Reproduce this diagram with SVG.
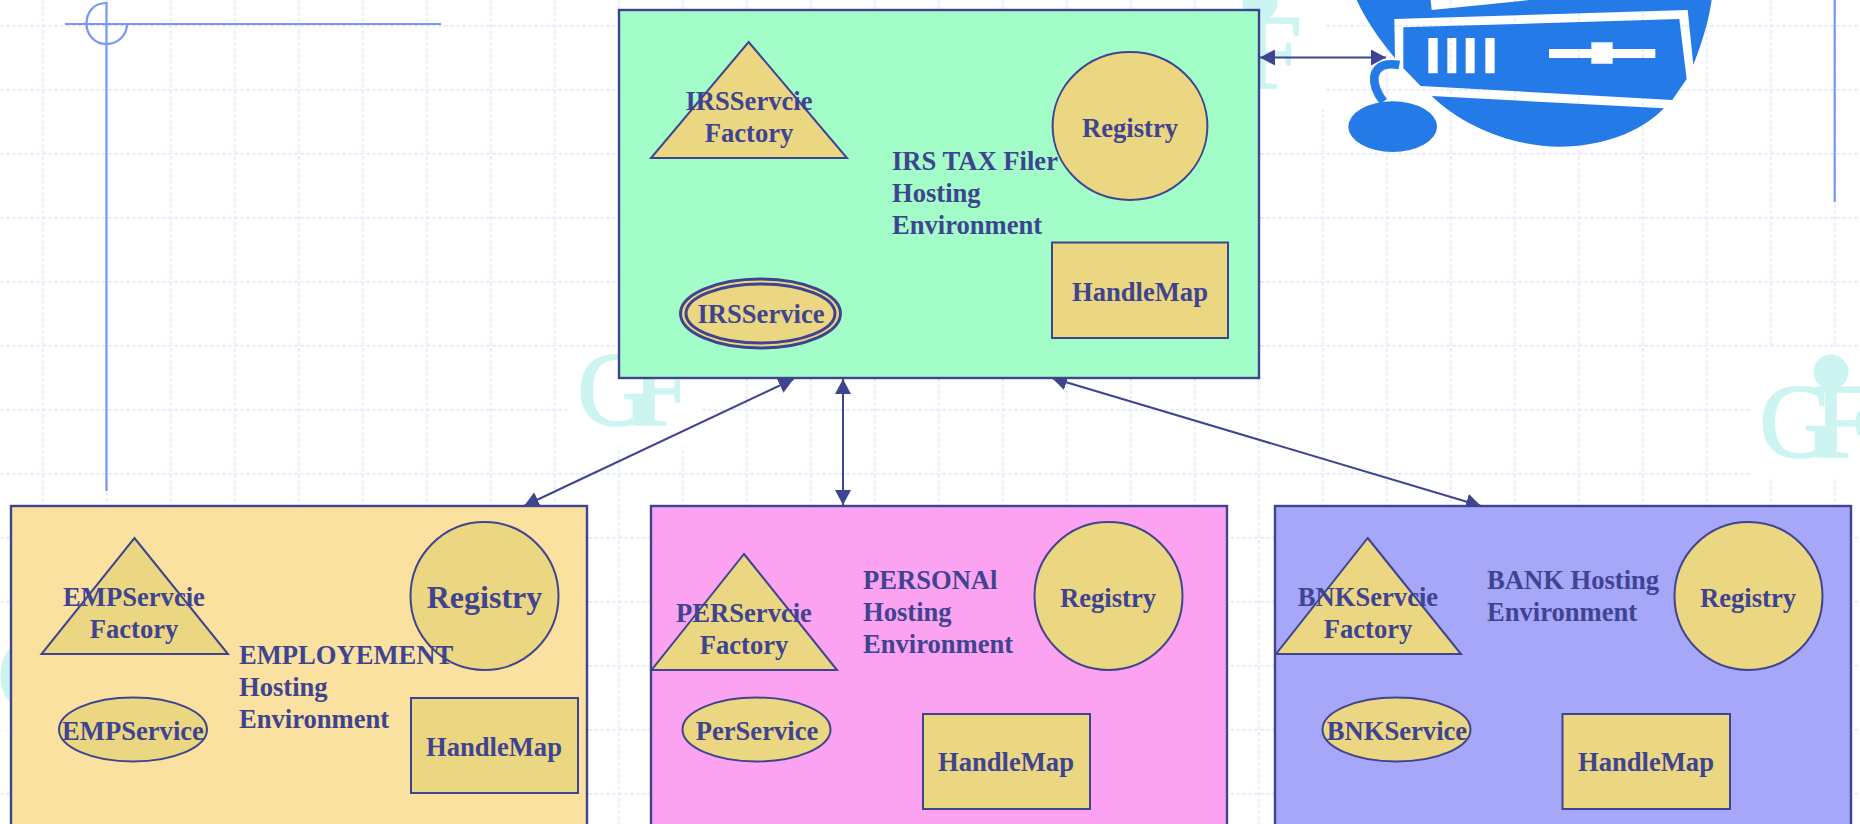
<svg xmlns="http://www.w3.org/2000/svg" xmlns:xlink="http://www.w3.org/1999/xlink" width="1860" height="824" viewBox="0 0 1860 824">
<style>
.grid line{stroke:#e3e9fc;stroke-width:1.6;stroke-dasharray:4 2;fill:none}
.wm{fill:#ccf5f2;stroke:#ccf5f2;stroke-width:1.6;font-family:"Liberation Serif","Times New Roman",serif;font-size:106px}
.deco{stroke:#7b95f7;stroke-width:2.2;fill:none}
.box{stroke:#3f4490;stroke-width:2.4}
.sh{fill:#ebd681;stroke:#3f4490;stroke-width:2}
.dbl{fill:#ebd681;stroke:#3f4490;stroke-width:3}
.t{fill:#3f4490;font-family:"Liberation Serif","Times New Roman",serif;font-weight:bold;font-size:26.6px}
.m{text-anchor:middle}
.big{font-size:32px}
.cn{stroke:#3f4490;stroke-width:2;fill:none;marker-start:url(#ah);marker-end:url(#ah)}
.ic{fill:#247be8}
</style>
<defs>
<marker id="ah" markerUnits="userSpaceOnUse" markerWidth="16" markerHeight="16" refX="15" refY="8" orient="auto-start-reverse"><path d="M0,0 L15,8 L0,16 Z" fill="#3f4490"/></marker>
<g id="gf"><text class="wm" x="0" y="0">G</text><text class="wm" x="55" y="0">F</text><circle cx="72" cy="-85" r="17.5" fill="#ccf5f2"/><rect x="66" y="-75" width="12" height="10" fill="#ccf5f2"/></g>
</defs>
<rect width="1860" height="824" fill="#fff"/>
<g id="background" class="grid">
<line x1="0" y1="25.7" x2="1860" y2="25.7"/><line x1="0" y1="89.7" x2="1860" y2="89.7"/><line x1="0" y1="153.7" x2="1860" y2="153.7"/><line x1="0" y1="217.7" x2="1860" y2="217.7"/><line x1="0" y1="281.7" x2="1860" y2="281.7"/><line x1="0" y1="345.7" x2="1860" y2="345.7"/><line x1="0" y1="409.7" x2="1860" y2="409.7"/><line x1="0" y1="473.7" x2="1860" y2="473.7"/><line x1="0" y1="537.7" x2="1860" y2="537.7"/><line x1="0" y1="601.7" x2="1860" y2="601.7"/><line x1="0" y1="665.7" x2="1860" y2="665.7"/><line x1="0" y1="729.7" x2="1860" y2="729.7"/><line x1="0" y1="793.7" x2="1860" y2="793.7"/>
<line x1="42.7" y1="0" x2="42.7" y2="824"/><line x1="106.7" y1="0" x2="106.7" y2="824"/><line x1="170.7" y1="0" x2="170.7" y2="824"/><line x1="234.7" y1="0" x2="234.7" y2="824"/><line x1="298.7" y1="0" x2="298.7" y2="824"/><line x1="362.7" y1="0" x2="362.7" y2="824"/><line x1="426.7" y1="0" x2="426.7" y2="824"/><line x1="490.7" y1="0" x2="490.7" y2="824"/><line x1="554.7" y1="0" x2="554.7" y2="824"/><line x1="618.7" y1="0" x2="618.7" y2="824"/><line x1="682.7" y1="0" x2="682.7" y2="824"/><line x1="746.7" y1="0" x2="746.7" y2="824"/><line x1="810.7" y1="0" x2="810.7" y2="824"/><line x1="874.7" y1="0" x2="874.7" y2="824"/><line x1="938.7" y1="0" x2="938.7" y2="824"/><line x1="1002.7" y1="0" x2="1002.7" y2="824"/><line x1="1066.7" y1="0" x2="1066.7" y2="824"/><line x1="1130.7" y1="0" x2="1130.7" y2="824"/><line x1="1194.7" y1="0" x2="1194.7" y2="824"/><line x1="1258.7" y1="0" x2="1258.7" y2="824"/><line x1="1322.7" y1="0" x2="1322.7" y2="824"/><line x1="1386.7" y1="0" x2="1386.7" y2="824"/><line x1="1450.7" y1="0" x2="1450.7" y2="824"/><line x1="1514.7" y1="0" x2="1514.7" y2="824"/><line x1="1578.7" y1="0" x2="1578.7" y2="824"/><line x1="1642.7" y1="0" x2="1642.7" y2="824"/><line x1="1706.7" y1="0" x2="1706.7" y2="824"/><line x1="1770.7" y1="0" x2="1770.7" y2="824"/><line x1="1834.7" y1="0" x2="1834.7" y2="824"/>
</g>
<g id="watermarks">
<rect x="570" y="347" width="130" height="100" fill="#fff"/>
<rect x="1751" y="347" width="109" height="130" fill="#fff"/>
<rect x="1200" y="0" width="126" height="110" fill="#fff"/>
<rect x="0" y="606" width="30" height="124" fill="#fff"/>
<use xlink:href="#gf" href="#gf" x="577" y="425"/>
<use xlink:href="#gf" href="#gf" x="1759" y="457"/>
<use xlink:href="#gf" href="#gf" x="1188" y="88"/>
<use xlink:href="#gf" href="#gf" x="-3" y="710"/>
</g>
<g id="decor">
<line class="deco" x1="65" y1="24" x2="441" y2="24"/>
<line class="deco" x1="106.5" y1="2" x2="106.5" y2="491"/>
<path class="deco" d="M106.5,3 C92,3 86.5,14 86.5,23.5 C86.5,34 94,44 106.5,44 C119,44 127,34 127,24"/>
<line class="deco" x1="1834.7" y1="0" x2="1834.7" y2="202"/>
</g>
<g id="computer" class="ic" transform="translate(1340,0) scale(0.33333)">
<path fill-rule="evenodd" d="M50,0 L1115,0 C1105,70 1085,130 1060,195 L1043,30 L163,57 L165,175 C115,115 75,55 50,0 Z M272,0 L275,30 L570,0 Z"/>
<path fill-rule="evenodd" d="M190,82 L1018,57 L1040,237 L997,300 L242,258 L190,205 Z M265,114 H293 V220 H265 Z M322,114 H349 V220 H322 Z M377,114 H404 V220 H377 Z M436,114 H464 V220 H436 Z M627,147 H754 V127 H818 V147 H946 V174 H818 V191 H754 V174 H627 Z"/>
<path d="M275,288 L972,325 C900,400 780,440 660,440 C520,440 370,380 275,288 Z"/>
<path d="M178,195 C150,190 110,190 103,230 C100,260 115,285 130,305" fill="none" stroke="#247be8" stroke-width="26"/>
<ellipse cx="158" cy="380" rx="133" ry="76"/>
</g>
<g id="connectors">
<line class="cn" x1="1260" y1="57.5" x2="1386" y2="57.5"/>
<line class="cn" x1="793.6" y1="379" x2="524" y2="506"/>
<line class="cn" x1="843" y1="379" x2="843" y2="505"/>
<line class="cn" x1="1052" y1="378" x2="1481" y2="506"/>
</g>
<g id="irs"><rect class="box" x="619" y="10" width="640" height="368" fill="#a3fdc9"/></g>
<g id="irs-factory"><polygon class="sh" points="748.6,42 847,158 651,158"/><text class="t m" x="749" y="110">IRSServcie</text><text class="t m" x="749" y="142">Factory</text></g>
<g id="irs-registry"><ellipse class="sh" cx="1130" cy="126" rx="77.4" ry="74"/><text class="t m" x="1130" y="137">Registry</text></g>
<g id="irs-handlemap"><rect class="sh" x="1052" y="242.5" width="176" height="95.5"/><text class="t m" x="1140" y="301">HandleMap</text></g>
<g id="irs-service"><ellipse class="dbl" cx="760.5" cy="313.5" rx="80" ry="34.5"/><ellipse class="dbl" cx="760.5" cy="313.5" rx="74.5" ry="29.5"/><text class="t m" x="761" y="323">IRSService</text></g>
<g id="irs-label"><text class="t" x="892" y="170">IRS TAX Filer</text><text class="t" x="892" y="202">Hosting</text><text class="t" x="892" y="234">Environment</text></g>
<g id="employment"><rect class="box" x="11" y="506" width="576" height="330" fill="#fbe19f"/></g>
<g id="emp-factory"><polygon class="sh" points="134.4,538 228,654 41.5,654"/><text class="t m" x="134" y="606">EMPServcie</text><text class="t m" x="134" y="638">Factory</text></g>
<g id="emp-registry"><circle class="sh" cx="484.5" cy="596" r="74"/><text class="t m big" x="484.5" y="608">Registry</text></g>
<g id="emp-handlemap"><rect class="sh" x="411" y="698" width="167" height="95"/><text class="t m" x="494" y="756">HandleMap</text></g>
<g id="emp-service"><ellipse class="sh" cx="133" cy="729.5" rx="74" ry="32"/><text class="t m" x="133" y="740">EMPService</text></g>
<g id="emp-label"><text class="t" x="239" y="664">EMPLOYEMENT</text><text class="t" x="239" y="696">Hosting</text><text class="t" x="239" y="728">Environment</text></g>
<g id="personal"><rect class="box" x="651" y="506" width="576" height="330" fill="#fba3f0"/></g>
<g id="per-factory"><polygon class="sh" points="744,554 837,670 651.6,670"/><text class="t m" x="744" y="622">PERServcie</text><text class="t m" x="744" y="654">Factory</text></g>
<g id="per-registry"><circle class="sh" cx="1108.5" cy="596" r="74"/><text class="t m" x="1108" y="607">Registry</text></g>
<g id="per-handlemap"><rect class="sh" x="923" y="714" width="167" height="95"/><text class="t m" x="1006" y="771">HandleMap</text></g>
<g id="per-service"><ellipse class="sh" cx="756.5" cy="729.5" rx="74" ry="32"/><text class="t m" x="757" y="740">PerService</text></g>
<g id="per-label"><text class="t" x="863" y="589">PERSONAl</text><text class="t" x="863" y="621">Hosting</text><text class="t" x="863" y="653">Environment</text></g>
<g id="bank"><rect class="box" x="1275" y="506" width="576" height="330" fill="#a7a7fa"/></g>
<g id="bnk-factory"><polygon class="sh" points="1367.7,538 1461,654 1276,654"/><text class="t m" x="1368" y="606">BNKServcie</text><text class="t m" x="1368" y="638">Factory</text></g>
<g id="bnk-registry"><circle class="sh" cx="1748.5" cy="596" r="74"/><text class="t m" x="1748" y="607">Registry</text></g>
<g id="bnk-handlemap"><rect class="sh" x="1562.5" y="714" width="167.5" height="95"/><text class="t m" x="1646" y="771">HandleMap</text></g>
<g id="bnk-service"><ellipse class="sh" cx="1396.5" cy="729.5" rx="74" ry="32"/><text class="t m" x="1397" y="740">BNKService</text></g>
<g id="bnk-label"><text class="t" x="1487" y="589">BANK Hosting</text><text class="t" x="1487" y="621">Environment</text></g>
</svg>
